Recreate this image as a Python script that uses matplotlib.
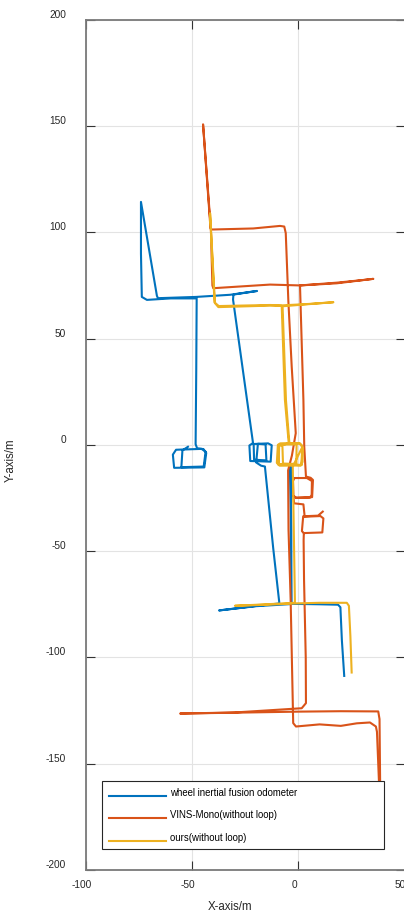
import numpy as np
import matplotlib
matplotlib.use('Agg')
import matplotlib.pyplot as plt
from matplotlib.legend_handler import HandlerLine2D
from matplotlib.transforms import ScaledTranslation

plt.rcParams['font.family'] = ['Liberation Sans', 'DejaVu Sans']
plt.rcParams['axes.unicode_minus'] = False

# trajectories (metres)
wheel_x = [-51.9, -54.5, -55.0, -44.5, -43.6, -45.5, -57.5, -59.0, -58.4, -44.2, -43.3, -44.6,
           -47.6, -48.3, -48.0, -47.8, -60.0, -71.2, -73.6, -74.0, -74.0, -66.5, -66.0, -48.0,
           -32.1, -19.4, -30.5, -30.7, -21.3, -23.0, -22.6, -13.0, -12.5, -14.2, -21.0, -20.8,
           -15.0, -15.4, -19.0, -19.8, -17.5, -15.7, -11.8, -8.9, -20.0, -37.3, -20.0, -3.4,
           -3.5, -3.7, -3.3, -3.2, 10.0, 18.7, 19.8, 20.5, 21.6]
wheel_y = [-0.9, -2.6, -10.5, -10.2, -3.2, -1.9, -2.3, -4.6, -10.8, -10.6, -3.8, -2.0,
           -1.6, 0.3, 35.0, 68.9, 68.9, 68.2, 69.6, 90.0, 114.3, 70.1, 69.0, 69.6,
           70.6, 72.4, 70.7, 68.4, 0.9, -0.3, -7.6, -7.9, -0.2, 0.7, 0.4, -7.0,
           -7.3, 0.2, 0.5, -8.3, -9.8, -10.2, -48.6, -74.6, -75.8, -77.9, -75.9, -74.9,
           -40.0, -9.5, -40.0, -74.8, -75.0, -75.2, -76.4, -92.0, -108.7]

vins_x = [11.5, 9.3, 2.3, 1.7, 2.6, 11.3, 11.8, 10.4, 3.0, 2.4, -2.0, -2.3,
          -1.0, 5.5, 6.3, 6.4, 4.0, -1.8, -2.5, -2.3, -1.0, 6.5, 6.9, 5.8,
          3.6, 2.8, 2.4, 0.8, 18.1, 30.0, 35.3, 18.1, 0.8, -13.3, -40.0, -40.4,
          -41.1, -44.8, -41.3, -40.6, -21.2, -8.6, -6.6, -5.9, -4.7, -3.1, -1.2, -3.0,
          -4.8, -4.6, -3.6, -2.4, -1.1, 10.0, 20.0, 27.5, 33.7, 36.5, 37.0, 38.4,
          38.6, 38.8, 38.5, 38.2, 37.6, 20.0, 0.0, -30.0, -55.6, -30.0, 1.6, 3.6,
          3.5, 2.7, 2.5, 2.6]
vins_y = [-31.4, -33.3, -33.6, -40.6, -41.5, -41.2, -34.6, -33.5, -33.8, -28.0, -27.5, -24.0,
          -24.9, -24.8, -23.5, -17.0, -15.6, -15.6, -17.0, -24.0, -24.9, -24.6, -16.5, -15.5,
          -14.9, -0.8, 21.2, 75.0, 76.3, 77.5, 78.1, 76.0, 75.0, 75.4, 73.7, 75.0,
          101.1, 150.8, 101.8, 101.3, 101.8, 103.0, 102.7, 99.6, 68.2, 36.8, 5.5, -5.0,
          -12.0, -40.0, -72.9, -130.9, -132.5, -131.5, -132.2, -131.0, -130.6, -132.5, -135.0, -170.0,
          -183.0, -183.0, -160.0, -129.0, -125.4, -125.3, -125.5, -126.0, -126.4, -125.9, -123.9, -121.5,
          -100.0, -63.5, -45.0, -41.5]

ours_x = [-4.7, -8.5, -9.6, -10.1, -8.8, 1.0, 2.0, 1.8, 0.5, -7.5, -7.2, -0.9,
          -0.8, -8.8, -9.2, -9.4, 1.6, 2.1, 0.8, -4.5, -6.3, -7.8, -13.3, -37.6,
          -39.2, -41.5, -39.4, -37.4, -13.3, -7.8, 5.0, 16.5, 5.0, -7.4, -5.8, -4.2,
          -9.0, -9.3, 1.4, 1.9, -2.6, -1.6, -1.6, -15.0, -29.8, -15.0, -1.5, 10.0,
          22.8, 23.8, 24.5, 25.1]
ours_y = [0.8, 0.7, 0.0, -8.5, -9.8, -9.7, -8.0, -0.3, 0.8, 0.3, -8.8, -9.0,
          0.2, 0.2, -1.0, -9.3, -9.4, -1.5, 0.6, 0.8, 21.2, 65.4, 65.5, 64.8,
          66.7, 109.0, 67.0, 65.3, 65.8, 65.6, 66.3, 67.1, 66.2, 65.2, 21.0, 0.8,
          -0.5, -9.0, -9.6, -1.0, -10.2, -72.9, -74.3, -75.0, -75.7, -75.2, -74.6, -74.3,
          -74.3, -75.7, -90.0, -107.1]

labels = ['wheel inertial fusion odometer', 'VINS-Mono(without loop)', 'ours(without loop)']
colors = ['#0072BD', '#D95319', '#EDB120']


class LoweredLine(HandlerLine2D):
    def create_artists(self, legend, orig_handle, xdescent, ydescent, width, height, fontsize, trans):
        arts = super().create_artists(legend, orig_handle, xdescent, ydescent, width, height, fontsize, trans)
        for a in arts:
            a.set_ydata(np.asarray(a.get_ydata()) - 2.5)
        return arts


fig = plt.figure(figsize=(4.04, 9.13), dpi=100)
ax = fig.add_axes([0.2121, 0.0471, 0.7894, 0.9313])

h1, = ax.plot(wheel_x, wheel_y, color=colors[0], lw=1.5)
h2, = ax.plot(vins_x, vins_y, color=colors[1], lw=1.5)
h3, = ax.plot(ours_x, ours_y, color=colors[2], lw=1.5)

ax.set_xlim(-100, 50)
ax.set_ylim(-200, 200)
ax.set_xticks([-100, -50, 0, 50])
ax.set_yticks([-200, -150, -100, -50, 0, 50, 100, 150, 200])
ax.grid(True, color='#e3e3e3', lw=0.8)
ax.set_axisbelow(True)
for s in ax.spines.values():
    s.set_color('#7a7a7a')
    s.set_linewidth(1.3)
ax.tick_params(direction='in', length=6.3, width=0.8, color='#333333',
               top=True, right=True, labelsize=7.3, labelcolor='#262626')
ax.tick_params(axis='y', pad=14.2)
ax.tick_params(axis='x', pad=7.2)
for lbl in ax.get_yticklabels():
    lbl.set_va('bottom')
for lbl in ax.get_xticklabels():
    lbl.set_transform(lbl.get_transform() + ScaledTranslation(-0.04, 0, fig.dpi_scale_trans))

ax.set_xlabel('X-axis/m', fontsize=8.3, color='#262626')
ax.set_ylabel('Y-axis/m', fontsize=8.3, color='#262626')
ax.xaxis.set_label_coords(0.4525, -0.037)
ax.yaxis.set_label_coords(-0.2154, 0.482)

leg = ax.legend([h1, h2, h3], labels, loc='upper left',
                bbox_to_anchor=(102 / 404, 62 / 913, 282 / 404, 70 / 913),
                bbox_transform=fig.transFigure, mode='expand', borderaxespad=0,
                fontsize=6.9, handlelength=6.0, handletextpad=0.35, labelspacing=1.3,
                borderpad=0.7, fancybox=False, framealpha=1, edgecolor='#262626',
                handler_map={matplotlib.lines.Line2D: LoweredLine()})
leg.get_frame().set_linewidth(0.8)

fig.savefig('out.png', dpi=100)
